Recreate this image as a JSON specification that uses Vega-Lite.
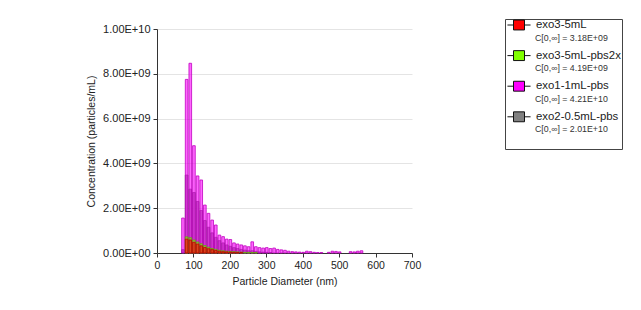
{
  "$schema": "https://vega.github.io/schema/vega-lite/v6.json",
  "width": 255,
  "height": 224,
  "autosize": "none",
  "padding": {"left": 157, "top": 29, "right": 229, "bottom": 57},
  "background": "white",
  "config": {
    "font": "Liberation Sans",
    "view": {"stroke": null},
    "axis": {
      "labelFont": "Liberation Sans",
      "titleFont": "Liberation Sans",
      "labelColor": "#222",
      "titleColor": "#222",
      "titleFontWeight": "normal",
      "domainColor": "#333",
      "tickColor": "#333",
      "gridColor": "#e4e4e4",
      "tickSize": 4
    },
    "legend": {
      "labelFont": "Liberation Sans",
      "labelColor": "#222"
    }
  },
  "data": {
    "values": [
      {"s": "exo2-0.5mL-pbs", "lo": 65, "c": 0.15e9},
      {"s": "exo2-0.5mL-pbs", "lo": 75, "c": 3.48e9},
      {"s": "exo2-0.5mL-pbs", "lo": 85, "c": 2.85e9},
      {"s": "exo2-0.5mL-pbs", "lo": 95, "c": 2.7e9},
      {"s": "exo2-0.5mL-pbs", "lo": 105, "c": 2.3e9},
      {"s": "exo2-0.5mL-pbs", "lo": 115, "c": 1.9e9},
      {"s": "exo2-0.5mL-pbs", "lo": 125, "c": 1.45e9},
      {"s": "exo2-0.5mL-pbs", "lo": 135, "c": 1.15e9},
      {"s": "exo2-0.5mL-pbs", "lo": 145, "c": 0.9e9},
      {"s": "exo2-0.5mL-pbs", "lo": 155, "c": 0.7e9},
      {"s": "exo2-0.5mL-pbs", "lo": 165, "c": 0.55e9},
      {"s": "exo2-0.5mL-pbs", "lo": 175, "c": 0.45e9},
      {"s": "exo2-0.5mL-pbs", "lo": 185, "c": 0.36e9},
      {"s": "exo2-0.5mL-pbs", "lo": 195, "c": 0.3e9},
      {"s": "exo2-0.5mL-pbs", "lo": 205, "c": 0.24e9},
      {"s": "exo2-0.5mL-pbs", "lo": 215, "c": 0.2e9},
      {"s": "exo2-0.5mL-pbs", "lo": 225, "c": 0.16e9},
      {"s": "exo2-0.5mL-pbs", "lo": 235, "c": 0.13e9},
      {"s": "exo2-0.5mL-pbs", "lo": 245, "c": 0.1e9},
      {"s": "exo2-0.5mL-pbs", "lo": 255, "c": 0.1e9},
      {"s": "exo2-0.5mL-pbs", "lo": 265, "c": 0.07e9},
      {"s": "exo2-0.5mL-pbs", "lo": 275, "c": 0.05e9},
      {"s": "exo2-0.5mL-pbs", "lo": 285, "c": 0.04e9},
      {"s": "exo2-0.5mL-pbs", "lo": 295, "c": 0.03e9},
      {"s": "exo2-0.5mL-pbs", "lo": 305, "c": 0.02e9},

      {"s": "exo1-1mL-pbs", "lo": 65, "c": 1.56e9},
      {"s": "exo1-1mL-pbs", "lo": 75, "c": 7.75e9},
      {"s": "exo1-1mL-pbs", "lo": 85, "c": 8.47e9},
      {"s": "exo1-1mL-pbs", "lo": 95, "c": 4.79e9},
      {"s": "exo1-1mL-pbs", "lo": 105, "c": 3.44e9},
      {"s": "exo1-1mL-pbs", "lo": 115, "c": 3.26e9},
      {"s": "exo1-1mL-pbs", "lo": 125, "c": 2.14e9},
      {"s": "exo1-1mL-pbs", "lo": 135, "c": 1.77e9},
      {"s": "exo1-1mL-pbs", "lo": 145, "c": 1.47e9},
      {"s": "exo1-1mL-pbs", "lo": 155, "c": 1.25e9},
      {"s": "exo1-1mL-pbs", "lo": 165, "c": 0.8e9},
      {"s": "exo1-1mL-pbs", "lo": 175, "c": 0.73e9},
      {"s": "exo1-1mL-pbs", "lo": 185, "c": 0.62e9},
      {"s": "exo1-1mL-pbs", "lo": 195, "c": 0.6e9},
      {"s": "exo1-1mL-pbs", "lo": 205, "c": 0.45e9},
      {"s": "exo1-1mL-pbs", "lo": 215, "c": 0.4e9},
      {"s": "exo1-1mL-pbs", "lo": 225, "c": 0.36e9},
      {"s": "exo1-1mL-pbs", "lo": 235, "c": 0.32e9},
      {"s": "exo1-1mL-pbs", "lo": 245, "c": 0.28e9},
      {"s": "exo1-1mL-pbs", "lo": 255, "c": 0.5e9},
      {"s": "exo1-1mL-pbs", "lo": 265, "c": 0.28e9},
      {"s": "exo1-1mL-pbs", "lo": 275, "c": 0.24e9},
      {"s": "exo1-1mL-pbs", "lo": 285, "c": 0.22e9},
      {"s": "exo1-1mL-pbs", "lo": 295, "c": 0.24e9},
      {"s": "exo1-1mL-pbs", "lo": 305, "c": 0.2e9},
      {"s": "exo1-1mL-pbs", "lo": 315, "c": 0.22e9},
      {"s": "exo1-1mL-pbs", "lo": 325, "c": 0.16e9},
      {"s": "exo1-1mL-pbs", "lo": 335, "c": 0.14e9},
      {"s": "exo1-1mL-pbs", "lo": 345, "c": 0.12e9},
      {"s": "exo1-1mL-pbs", "lo": 355, "c": 0.08e9},
      {"s": "exo1-1mL-pbs", "lo": 365, "c": 0.06e9},
      {"s": "exo1-1mL-pbs", "lo": 375, "c": 0.05e9},
      {"s": "exo1-1mL-pbs", "lo": 385, "c": 0.04e9},
      {"s": "exo1-1mL-pbs", "lo": 395, "c": 0.03e9},
      {"s": "exo1-1mL-pbs", "lo": 405, "c": 0.08e9},
      {"s": "exo1-1mL-pbs", "lo": 415, "c": 0.06e9},
      {"s": "exo1-1mL-pbs", "lo": 425, "c": 0.03e9},
      {"s": "exo1-1mL-pbs", "lo": 435, "c": 0.02e9},
      {"s": "exo1-1mL-pbs", "lo": 445, "c": 0.02e9},
      {"s": "exo1-1mL-pbs", "lo": 465, "c": 0.03e9},
      {"s": "exo1-1mL-pbs", "lo": 475, "c": 0.08e9},
      {"s": "exo1-1mL-pbs", "lo": 485, "c": 0.07e9},
      {"s": "exo1-1mL-pbs", "lo": 495, "c": 0.05e9},
      {"s": "exo1-1mL-pbs", "lo": 525, "c": 0.06e9},
      {"s": "exo1-1mL-pbs", "lo": 535, "c": 0.05e9},
      {"s": "exo1-1mL-pbs", "lo": 545, "c": 0.08e9},
      {"s": "exo1-1mL-pbs", "lo": 555, "c": 0.1e9},

      {"s": "exo3-5mL-pbs2x", "lo": 75, "c": 0.72e9},
      {"s": "exo3-5mL-pbs2x", "lo": 85, "c": 0.68e9},
      {"s": "exo3-5mL-pbs2x", "lo": 95, "c": 0.58e9},
      {"s": "exo3-5mL-pbs2x", "lo": 105, "c": 0.49e9},
      {"s": "exo3-5mL-pbs2x", "lo": 115, "c": 0.41e9},
      {"s": "exo3-5mL-pbs2x", "lo": 125, "c": 0.33e9},
      {"s": "exo3-5mL-pbs2x", "lo": 135, "c": 0.26e9},
      {"s": "exo3-5mL-pbs2x", "lo": 145, "c": 0.2e9},
      {"s": "exo3-5mL-pbs2x", "lo": 155, "c": 0.16e9},
      {"s": "exo3-5mL-pbs2x", "lo": 165, "c": 0.12e9},
      {"s": "exo3-5mL-pbs2x", "lo": 175, "c": 0.1e9},
      {"s": "exo3-5mL-pbs2x", "lo": 185, "c": 0.08e9},
      {"s": "exo3-5mL-pbs2x", "lo": 195, "c": 0.07e9},
      {"s": "exo3-5mL-pbs2x", "lo": 205, "c": 0.06e9},
      {"s": "exo3-5mL-pbs2x", "lo": 215, "c": 0.05e9},
      {"s": "exo3-5mL-pbs2x", "lo": 225, "c": 0.04e9},
      {"s": "exo3-5mL-pbs2x", "lo": 235, "c": 0.03e9},
      {"s": "exo3-5mL-pbs2x", "lo": 245, "c": 0.03e9},
      {"s": "exo3-5mL-pbs2x", "lo": 255, "c": 0.02e9},
      {"s": "exo3-5mL-pbs2x", "lo": 265, "c": 0.02e9},

      {"s": "exo3-5mL", "lo": 75, "c": 0.62e9},
      {"s": "exo3-5mL", "lo": 85, "c": 0.58e9},
      {"s": "exo3-5mL", "lo": 95, "c": 0.48e9},
      {"s": "exo3-5mL", "lo": 105, "c": 0.4e9},
      {"s": "exo3-5mL", "lo": 115, "c": 0.32e9},
      {"s": "exo3-5mL", "lo": 125, "c": 0.25e9},
      {"s": "exo3-5mL", "lo": 135, "c": 0.19e9},
      {"s": "exo3-5mL", "lo": 145, "c": 0.15e9},
      {"s": "exo3-5mL", "lo": 155, "c": 0.11e9},
      {"s": "exo3-5mL", "lo": 165, "c": 0.08e9},
      {"s": "exo3-5mL", "lo": 175, "c": 0.06e9},
      {"s": "exo3-5mL", "lo": 185, "c": 0.05e9},
      {"s": "exo3-5mL", "lo": 195, "c": 0.04e9},
      {"s": "exo3-5mL", "lo": 205, "c": 0.03e9},
      {"s": "exo3-5mL", "lo": 215, "c": 0.02e9},
      {"s": "exo3-5mL", "lo": 225, "c": 0.02e9}
    ]
  },
  "mark": {"type": "bar", "strokeWidth": 0.8, "fillOpacity": 0.6},
  "encoding": {
    "x": {
      "field": "lo",
      "type": "quantitative",
      "bin": {"binned": true, "step": 10},
      "title": "Particle Diameter (nm)",
      "scale": {"domain": [0, 700], "nice": false},
      "axis": {
        "values": [0, 100, 200, 300, 400, 500, 600, 700],
        "labelFontSize": 10.5,
        "titleFontSize": 10.5,
        "labelPadding": 3,
        "titlePadding": 6,
        "labelFlush": false
      }
    },
    "y": {
      "field": "c",
      "type": "quantitative",
      "stack": null,
      "title": "Concentration (particles/mL)",
      "scale": {"domain": [0, 10000000000], "nice": false},
      "axis": {
        "values": [0, 2000000000, 4000000000, 6000000000, 8000000000, 10000000000],
        "labelFontSize": 11,
        "titleFontSize": 10.5,
        "labelPadding": 3,
        "titlePadding": 6,
        "labelExpr": "datum.value == 0 ? '0.00E+00' : format(datum.value / pow(10, floor(log(datum.value) / LN10 + 0.000001)), '.2f') + 'E+' + (floor(log(datum.value) / LN10 + 0.000001) < 10 ? '0' : '') + floor(log(datum.value) / LN10 + 0.000001)"
      }
    },
    "fill": {
      "field": "s",
      "type": "nominal",
      "scale": {
        "domain": ["exo3-5mL", "exo3-5mL-pbs2x", "exo1-1mL-pbs", "exo2-0.5mL-pbs"],
        "range": ["#ff0000", "#80ff00", "#ff00ff", "#808080"]
      },
      "legend": {
        "title": null,
        "orient": "none",
        "legendX": 356,
        "legendY": -10,
        "padding": 0,
        "zindex": 2,
        "symbolType": "M-2.1,0H-1M1,0H2.1M-1,-0.9H1V0.9H-1Z",
        "symbolSize": 121,
        "symbolStrokeColor": "#111",
        "symbolStrokeWidth": 1,
        "symbolOpacity": 1,
        "symbolFillOpacity": 1,
        "labelFontSize": 11.4,
        "labelOffset": 11,
        "rowPadding": 16.6
      }
    },
    "stroke": {
      "field": "s",
      "type": "nominal",
      "sort": ["exo3-5mL", "exo3-5mL-pbs2x", "exo1-1mL-pbs", "exo2-0.5mL-pbs"],
      "scale": {"range": ["#c00000", "#60b000", "#c000c0", "#505050"]},
      "legend": {
        "title": null,
        "orient": "none",
        "legendX": 348,
        "legendY": -10,
        "padding": 14,
        "zindex": 1,
        "strokeColor": "#444",
        "symbolSize": 100,
        "symbolOpacity": 0,
        "symbolStrokeWidth": 0,
        "labelFontSize": 8.8,
        "labelColor": "#333",
        "labelOffset": 6,
        "rowPadding": 20.4,
        "labelExpr": "datum.label == 'exo3-5mL' ? 'C[0,∞] = 3.18E+09' : datum.label == 'exo3-5mL-pbs2x' ? 'C[0,∞] = 4.19E+09' : datum.label == 'exo1-1mL-pbs' ? 'C[0,∞] = 4.21E+10' : 'C[0,∞] = 2.01E+10'"
      }
    },
    "fillOpacity": {
      "condition": {"test": "datum.s == 'exo2-0.5mL-pbs'", "value": 0.9},
      "value": 0.6
    }
  }
}
